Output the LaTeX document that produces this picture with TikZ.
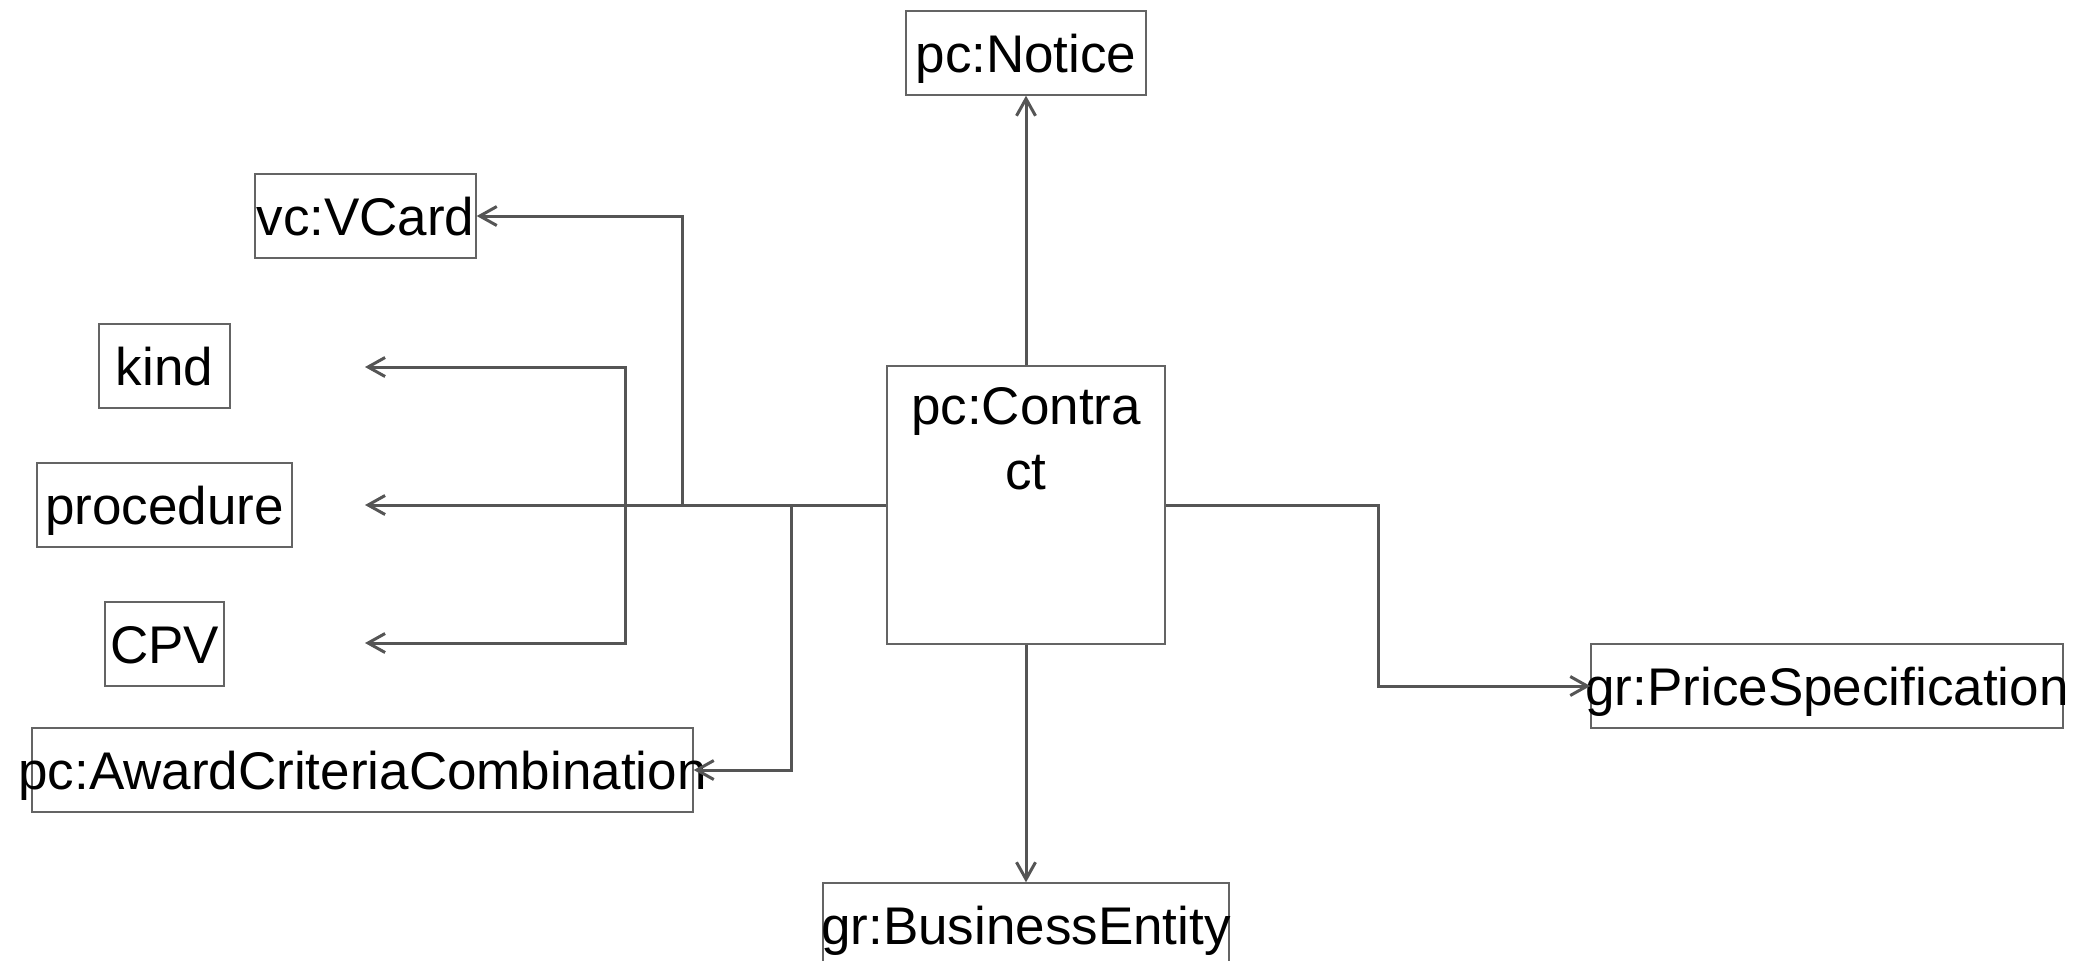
\documentclass[tikz,border=0pt]{standalone}
\usepackage{fontspec}
\setmainfont{Liberation Sans}
\usetikzlibrary{arrows.meta}
\definecolor{ln}{RGB}{85, 85, 85}
\definecolor{bd}{RGB}{100, 100, 100}
\newcommand{\nm}[1]{\makebox[0pt]{#1}}

\begin{document}
\begin{tikzpicture}[
every node/.style={inner sep=0pt, font=\fontsize{26.5}{32.5}\selectfont},
cls/.style={rectangle, draw=bd, line width=0.7pt, minimum height=42pt, text height=19pt, text depth=0pt},
ctitle/.style={align=center, anchor=north, yshift=-11pt},
conn/.style={line width=1.5pt, color=ln, -{Straight Barb[length=8.5pt, width=9.5pt]}}]
\useasboundingbox (0pt, 0pt) rectangle (1038.5pt, -480pt);
\node (contract) [cls, minimum width=139pt, minimum height=139pt, label={[ctitle]north:{pc:Contra\\ct}}] at (513.0pt, -252.5pt) {};
\node (notice) [cls, minimum width=120pt] at (513.0pt, -26.5pt) {\nm{pc:Notice}};
\node (vcard) [cls, minimum width=110.5pt] at (182.75pt, -108.0pt) {\nm{vc:VCard}};
\node (kind) [cls, minimum width=65.5pt] at (82.25pt, -183.0pt) {\nm{kind}};
\node (procedure) [cls, minimum width=127.5pt] at (82.25pt, -252.5pt) {\nm{procedure}};
\node (cpv) [cls, minimum width=59.5pt] at (82.25pt, -322.0pt) {\nm{CPV}};
\node (award) [cls, minimum width=330.5pt] at (181.25pt, -385.0pt) {\nm{pc:AwardCriteriaCombination}};
\node (business) [cls, minimum width=203pt] at (513.0pt, -462.5pt) {\nm{gr:BusinessEntity}};
\node (price) [cls, minimum width=236pt] at (913.5pt, -343.0pt) {\nm{gr:PriceSpecification}};
% bends and loose ends
\coordinate (kcjoin) at (312.5pt, -252.5pt);
\coordinate (vcjoin) at (341.0pt, -252.5pt);
\coordinate (acjoin) at (395.5pt, -252.5pt);
\coordinate (psjoin) at (689.0pt, -252.5pt);
\coordinate (kindend) at (182.5pt, -183.5pt);
\coordinate (procend) at (182.5pt, -252.5pt);
\coordinate (cpvend) at (182.5pt, -321.5pt);
\draw [conn] (contract.north) to (notice.south);
\draw [conn] (contract.south) to (business.north);
\draw [conn] (contract.east) -- (psjoin) |- (price.west);
\draw [conn] (contract.west) -- (vcjoin) |- (vcard.east);
\draw [conn] (contract.west) -- (procend);
\draw [conn] (kcjoin) |- (kindend);
\draw [conn] (kcjoin) |- (cpvend);
\draw [conn] (acjoin) |- (award.east);
\end{tikzpicture}
\end{document}
